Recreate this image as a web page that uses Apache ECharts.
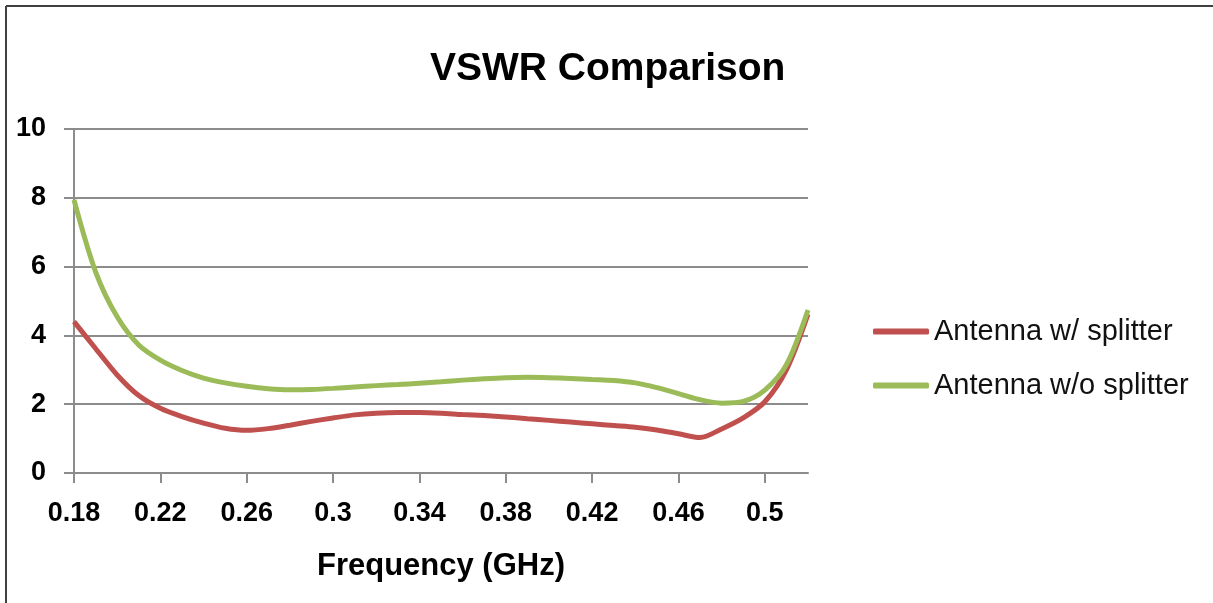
<!DOCTYPE html>
<html>
<head>
<meta charset="utf-8">
<script src="https://cdn.jsdelivr.net/npm/echarts@6/dist/echarts.min.js"></script>
<style>
html,body{margin:0;padding:0;background:#fff;}
#chart{width:1213px;height:603px;}
</style>
</head>
<body>
<div id="chart"></div>
<script>
var frequencies = [0.18,0.19,0.20,0.21,0.22,0.23,0.24,0.25,0.26,0.27,0.28,0.29,0.30,0.31,0.32,0.33,0.34,0.35,0.36,0.37,0.38,0.39,0.40,0.41,0.42,0.43,0.44,0.45,0.46,0.47,0.48,0.49,0.50,0.51,0.52];
var withSplitter = [4.40,3.62,2.85,2.25,1.88,1.64,1.45,1.30,1.24,1.29,1.39,1.50,1.60,1.69,1.74,1.76,1.76,1.74,1.70,1.67,1.63,1.58,1.53,1.48,1.43,1.38,1.33,1.25,1.14,1.03,1.28,1.60,2.07,3.00,4.62];
var withoutSplitter = [7.94,5.85,4.54,3.72,3.28,2.98,2.76,2.62,2.52,2.45,2.42,2.43,2.46,2.50,2.54,2.57,2.61,2.65,2.70,2.74,2.77,2.78,2.77,2.75,2.72,2.69,2.62,2.48,2.31,2.13,2.03,2.08,2.41,3.15,4.74];
var xTickValues = [0.18,0.22,0.26,0.30,0.34,0.38,0.42,0.46,0.50];
var seriesNames = ['Antenna w/ splitter','Antenna w/o splitter'];

function pairs(xs, ys){ return xs.map(function(x,i){ return [x, ys[i]]; }); }

var chart = echarts.init(document.getElementById('chart'), null, {renderer:'canvas'});
var font = 'Liberation Sans, Arial, sans-serif';
chart.setOption({
  animation: false,
  backgroundColor: '#ffffff',
  title: {
    text: 'VSWR Comparison',
    left: 425, top: 45,
    textStyle: {fontFamily: font, fontSize: 39, fontWeight: 'bold', color: '#000'}
  },
  legend: {
    orient: 'vertical',
    left: 873, top: 317, padding: 0,
    itemWidth: 56, itemHeight: 6,
    itemGap: 25,
    icon: 'roundRect',
    textStyle: {fontFamily: font, fontSize: 29, color: '#111'},
    data: seriesNames
  },
  grid: {left: 74, right: 405, top: 129, bottom: 130, containLabel: false},
  xAxis: {
    type: 'value', min: 0.18, max: 0.52,
    name: 'Frequency (GHz)', nameLocation: 'middle', nameGap: 78,
    nameTextStyle: {fontFamily: font, fontSize: 31, fontWeight: 'bold', color: '#000'},
    axisLine: {show: true, onZero: false, lineStyle: {color: '#8c8c8c', width: 2}},
    axisTick: {show: true, length: 10, customValues: xTickValues, lineStyle: {color: '#8c8c8c', width: 2}},
    axisLabel: {customValues: xTickValues, margin: 27, fontFamily: font, fontSize: 27, fontWeight: 'bold', color: '#000'},
    splitLine: {show: false}
  },
  yAxis: {
    type: 'value', min: 0, max: 10, interval: 2,
    axisLine: {show: true, lineStyle: {color: '#8c8c8c', width: 2}},
    axisTick: {show: true, length: 10, lineStyle: {color: '#8c8c8c', width: 2}},
    axisLabel: {margin: 28, fontFamily: font, fontSize: 27, fontWeight: 'bold', color: '#000'},
    splitLine: {show: true, lineStyle: {color: '#8c8c8c', width: 2}}
  },
  series: [
    {name: seriesNames[0], type: 'line', data: pairs(frequencies, withSplitter), smooth: 0.3, showSymbol: false, color: '#C0504D', lineStyle: {width: 5, color: '#C0504D'}},
    {name: seriesNames[1], type: 'line', data: pairs(frequencies, withoutSplitter), smooth: 0.3, showSymbol: false, color: '#9BBB59', lineStyle: {width: 5, color: '#9BBB59'}}
  ],
  graphic: [
    {type: 'line', shape: {x1: 6, y1: 6, x2: 1213, y2: 6}, style: {stroke: '#404040', lineWidth: 2}},
    {type: 'line', shape: {x1: 6, y1: 6, x2: 6, y2: 603}, style: {stroke: '#404040', lineWidth: 2}}
  ]
});
</script>
</body>
</html>
